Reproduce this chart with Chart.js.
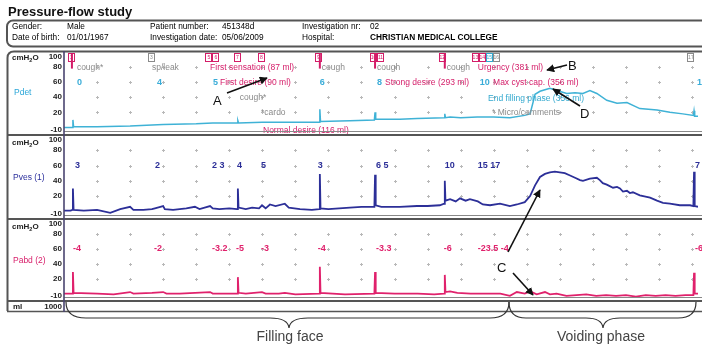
<!DOCTYPE html>
<html><head><meta charset="utf-8">
<script src="https://cdn.jsdelivr.net/npm/chart.js@4.4.1/dist/chart.umd.min.js"></script>
<style>
html,body{margin:0;padding:0;background:#fff;width:702px;height:346px;overflow:hidden;font-family:"Liberation Sans",Arial,sans-serif;}
#wrap{position:relative;width:702px;height:346px;}
canvas.panel{position:absolute;left:0;}
svg{position:absolute;left:0;top:0;}
</style></head><body>
<div id="wrap">
<canvas class="panel" id="cPdet" width="702" height="83" style="top:52px"></canvas>
<canvas class="panel" id="cPves" width="702" height="84" style="top:135px"></canvas>
<canvas class="panel" id="cPabd" width="702" height="82" style="top:219px"></canvas>
<svg width="702" height="346" xmlns="http://www.w3.org/2000/svg" font-family="Liberation Sans, Arial, sans-serif">
 <defs>
  <marker id="ah" viewBox="0 0 10 10" refX="9" refY="5" markerWidth="5" markerHeight="5" orient="auto"><path d="M0,0 L10,5 L0,10 z" fill="#111"/></marker>
 </defs>
 <!-- title & header -->
 <text x="8" y="16" font-size="13" font-weight="bold" fill="#111">Pressure-flow study</text>
 <rect x="7" y="20.5" width="705" height="26" rx="6" fill="none" stroke="#555" stroke-width="2"/>
 <g font-size="8.3" fill="#000">
  <text x="12" y="29">Gender:</text><text x="67" y="29">Male</text>
  <text x="150" y="29">Patient number:</text><text x="222" y="29">451348d</text>
  <text x="302" y="29">Investigation nr:</text><text x="370" y="29">02</text>
  <text x="12" y="40">Date of birth:</text><text x="67" y="40">01/01/1967</text>
  <text x="150" y="40">Investigation date:</text><text x="222" y="40">05/06/2009</text>
  <text x="302" y="40">Hospital:</text><text x="370" y="40" font-weight="bold">CHRISTIAN MEDICAL COLLEGE</text>
 </g>
 <!-- panel frame -->
 <path d="M7.5,311 L7.5,58 Q7.5,51.5 14,51.5 L710,51.5" fill="none" stroke="#555" stroke-width="2"/>
 <g stroke="#555" fill="none">
  <line x1="7" y1="135" x2="702" y2="135" stroke-width="2.2"/>
  <line x1="64" y1="131.5" x2="702" y2="131.5" stroke-width="1" stroke="#888"/>
  <line x1="7" y1="219" x2="702" y2="219" stroke-width="2.2"/>
  <line x1="64" y1="215.5" x2="702" y2="215.5" stroke-width="1" stroke="#888"/>
  <line x1="7" y1="301" x2="702" y2="301" stroke-width="2.2"/>
  <line x1="64" y1="297.5" x2="702" y2="297.5" stroke-width="1" stroke="#888"/>
  <line x1="7" y1="311.5" x2="702" y2="311.5" stroke-width="1.6"/>
  <line x1="64" y1="51" x2="64" y2="312" stroke-width="1.6" stroke="#4a4470"/>
 </g>
 <!-- left labels -->
 <g font-size="8" font-weight="bold" fill="#222">
  <text x="12" y="60">cmH<tspan font-size="5.5" dy="2">2</tspan><tspan dy="-2">O</tspan></text>
  <text x="12" y="145">cmH<tspan font-size="5.5" dy="2">2</tspan><tspan dy="-2">O</tspan></text>
  <text x="12" y="229">cmH<tspan font-size="5.5" dy="2">2</tspan><tspan dy="-2">O</tspan></text>
  <text x="13" y="309">ml</text>
  <text x="62" y="309" text-anchor="end">1000</text>
 </g>
 <text x="14" y="95" font-size="8.5" fill="#2aa6d8">Pdet</text>
 <text x="13" y="180" font-size="8.5" fill="#2b2f9c">Pves (1)</text>
 <text x="13" y="263" font-size="8.5" fill="#d81e6a">Pabd (2)</text>
 <!-- annotation arrows -->
 <g stroke="#111" stroke-width="1.6" fill="none">
  <line x1="227" y1="93" x2="267" y2="78" marker-end="url(#ah)"/>
  <line x1="567" y1="65" x2="547" y2="70" marker-end="url(#ah)"/>
  <line x1="580" y1="106" x2="553" y2="89" marker-end="url(#ah)"/>
  <line x1="508" y1="252" x2="540" y2="190" marker-end="url(#ah)"/>
  <line x1="513" y1="273" x2="533" y2="295" marker-end="url(#ah)"/>
 </g>
 <g font-size="13" fill="#111">
  <text x="213" y="105">A</text>
  <text x="568" y="70">B</text>
  <text x="497" y="272">C</text>
  <text x="580" y="118">D</text>
 </g>
 <!-- phase braces -->
 <g stroke="#333" stroke-width="1.2" fill="none">
  <path d="M66,302 Q66,318 86,318 L270,318 Q288,318 289,328 Q290,318 308,318 L490,318 Q509,318 509,302"/>
  <path d="M509,302 Q509,318 526,318 L586,318 Q602,318 603,328 Q604,318 620,318 L678,318 Q696,318 696,302"/>
 </g>
 <text x="290" y="341" font-size="14" fill="#444" text-anchor="middle">Filling face</text>
 <text x="601" y="341" font-size="14" fill="#444" text-anchor="middle">Voiding phase</text>
</svg>
</div>
<script>
// ---- Data (time in grid divisions, pressure in cmH2O) ----
const T_MAX = 19.18;
const gridTimes = [1,2,3,4,5,6,7,8,9,10,11,12,13,14,15,16,17,18,19];
const gridLevels = [20,40,60,80];
const tickValues = [100,80,60,40,20,-10];

const pdetTime = [0,0.25,0.27,0.29,1.0,2.0,3.0,4.0,4.5,5.24,5.26,5.28,6.0,7.0,7.72,7.74,7.76,8.65,9.39,9.41,9.43,10.16,10.68,11.5,11.52,11.54,11.68,12.0,12.5,13.0,13.49,13.94,14.10,14.20,14.25,14.40,14.55,14.70,14.91,15.21,15.46,15.70,15.91,16.12,16.42,16.73,17.03,17.42,17.94,18.33,18.72,19.04,19.06,19.08,19.18];
const pdetValues = [0,0,10,1,1,2,4,5,6,6,9,6,7,7,7,24,8,9,10,20,11,11,12,13,18,13,14,13,14,14,13,16,18,35,44,48,50,52,49,45,46,45,49,45,36,32,33,25,23,20,18,16,22,15,15];

const pvesTime = [0,0.2,0.25,0.27,0.29,0.6,1.0,1.4,1.7,2.0,2.1,2.4,2.66,2.75,3.0,3.05,3.3,3.7,3.96,4.1,4.42,4.5,4.7,5.0,5.24,5.26,5.28,5.5,5.69,5.9,5.99,6.1,6.23,6.4,6.68,6.8,7.14,7.5,7.72,7.74,7.76,8.0,8.65,9.0,9.39,9.41,9.43,9.6,10.16,10.68,11.0,11.37,11.5,11.52,11.54,11.68,11.85,11.98,12.15,12.28,12.52,12.67,12.89,13.19,13.49,13.70,13.94,14.10,14.25,14.40,14.55,14.70,14.85,15.00,15.15,15.31,15.46,15.61,15.70,15.91,16.12,16.21,16.30,16.42,16.61,16.73,16.82,16.91,17.03,17.12,17.21,17.42,17.73,17.94,18.12,18.33,18.63,18.94,19.04,19.06,19.08,19.18];
const pvesValues = [1,1,2,30,2,1,2,-2,3,6,2,2,3,4,7,3,2,4,6,3,7,4,3,4,3,30,5,3,5,4,8,4,9,7,10,5,3,2,3,49,4,3,5,6,6,48,8,6,6,7,7,8,10,40,14,16,13,17,14,16,13,9,8,10,7,9,12,20,34,45,49,51,52,51,50,47,44,41,40,43,44,41,37,35,31,32,30,26,27,24,25,21,18,14,11,10,8,8,7,52,7,6];

const pabdTime = [0,0.25,0.27,0.29,1.0,1.5,2.0,2.1,2.66,3.0,3.1,3.5,4.42,4.5,5.0,5.24,5.26,5.28,5.5,5.99,6.1,6.5,6.68,7.0,7.72,7.74,7.76,8.5,9.39,9.41,9.43,10.0,10.7,11.2,11.5,11.52,11.54,11.68,11.9,12.3,12.7,13.2,13.49,13.7,13.94,14.1,14.3,14.55,14.7,14.9,15.2,15.5,15.8,16.1,16.4,16.7,17.0,17.3,17.6,17.9,18.2,18.5,18.8,19.04,19.06,19.08,19.18];
const pabdValues = [0,0,29,1,0,-1,2,0,1,2,0,0,2,0,0,0,22,1,0,2,0,0,1,-1,0,36,1,-1,0,29,1,0,0,-1,0,25,2,3,1,0,0,0,-3,2,0,3,-1,2,-1,0,-3,-2,-1,-3,-2,-3,-2,-4,-2,-3,-2,-3,-2,-2,28,0,0];

// event markers (top of Pdet panel)
const markerTimes = [0.2,2.63,4.37,4.58,5.23,5.96,7.68,9.35,9.56,11.43,12.43,12.64,12.85,13.06,18.95];
const markerNumbers = ['1','3','5','6','7','8','9','10','11','12','13','14','15','16','17'];
const markerKinds = ['event','note','event','event','event','event','event','event','event','event','event','event','fill','note','note'];
const coughLineTimes = [0.24,7.74,9.41,11.52];

// Pdet panel notes
const pdetNoteTimes  = [0.39,2.66,4.42,7.80,9.47,11.58,12.52, 0.39,2.81,4.51,4.72,7.74,9.47,9.71,12.58,12.98,19.15, 5.32,12.83, 5.96,12.95, 6.02];
const pdetNoteLevels = [79,79,79,79,79,79,79, 59,59,59,59,59,59,59,59,59,59, 40,38, 20,20, -4];
const pdetNoteTexts  = ['cough*','sp/leak','First sensation (87 ml)','cough','cough','cough','Urgency (381 ml)',
  '0','4','5','First desire (90 ml)','6','8','Strong desire (293 ml)','10','Max cyst cap. (356 ml)','12',
  'cough*','End filling phase (356 ml)','*cardo','* Micro/comments','Normal desire (116 ml)'];
const pdetNoteKinds  = ['note','note','event','note','note','note','event',
  'num','num','num','event','num','num','event','num','event','num',
  'note','fill','note','note','event'];

// Pves panel numbers
const pvesNoteTimes = [0.33,2.75,4.48,5.23,5.96,7.68,9.44,11.52,12.52,19.09];
const pvesNoteTexts = ['3','2','2 3','4','5','3','6 5','10','15 17','7'];
const pvesNoteLevel = 60;

// Pabd panel numbers
const pabdNoteTimes = [0.27,2.72,4.48,5.2,5.96,7.68,9.44,11.49,12.52,19.09];
const pabdNoteTexts = ['-4','-2','-3.2','-5','-3','-4','-3.3','-6','-23.5 -4','-6'];
const pabdNoteLevel = 61;

// ---- Styles ----
const COL = {pdet:'#3fb2d6', pves:'#2c2f98', pabd:'#e0216c', event:'#d41c68', note:'#8a8a8a', num:'#39acd8', fill:'#33a9cf'};

function pts(ts, vs){ return ts.map((t,i)=>({x:t,y:vs[i]})); }

function makeDecor(cfg){
  return {
    id:'decor',
    beforeDatasetsDraw(chart){
      const {ctx, scales:{x,y}} = chart;
      ctx.save();
      ctx.strokeStyle = '#b8b8b8'; ctx.lineWidth = 1;
      gridTimes.forEach(k=>gridLevels.forEach(v=>{
        const px = Math.round(x.getPixelForValue(k))+0.5, py = Math.round(y.getPixelForValue(v))+0.5;
        ctx.beginPath(); ctx.moveTo(px-1.5,py); ctx.lineTo(px+1.5,py); ctx.moveTo(px,py-1.5); ctx.lineTo(px,py+1.5); ctx.stroke();
      }));
      ctx.restore();
    },
    afterDatasetsDraw(chart){
      const {ctx, scales:{x,y}} = chart;
      const h = chart.height;
      ctx.save();
      // y tick labels
      ctx.font = 'bold 8px "Liberation Sans", Arial';
      ctx.fillStyle = '#222'; ctx.textAlign = 'right'; ctx.textBaseline = 'middle';
      tickValues.forEach(v=>{
        let py = y.getPixelForValue(v);
        py = Math.min(Math.max(py, 5), h-5);
        ctx.fillText(String(v), 62, py);
      });
      ctx.textAlign = 'left';
      if (cfg.markers){
        coughLineTimes.forEach(t=>{
          const px = x.getPixelForValue(t);
          ctx.strokeStyle = COL.event; ctx.lineWidth = 2;
          ctx.beginPath(); ctx.moveTo(px, y.getPixelForValue(100)+1); ctx.lineTo(px, y.getPixelForValue(78)); ctx.stroke();
        });
        markerTimes.forEach((t,i)=>{
          const px = x.getPixelForValue(t), top = y.getPixelForValue(100)+1;
          ctx.strokeStyle = COL[markerKinds[i]]; ctx.lineWidth = 1;
          ctx.strokeRect(Math.round(px-3)+0.5, top+0.5, 6, 8);
          ctx.fillStyle = COL[markerKinds[i]];
          ctx.font = '5px "Liberation Sans", Arial'; ctx.textAlign='center';
          ctx.fillText(markerNumbers[i], px+0.5, top+4.5);
        });
        ctx.textAlign = 'left';
        pdetNoteTimes.forEach((t,i)=>{
          const k = pdetNoteKinds[i];
          ctx.fillStyle = COL[k];
          ctx.font = (k==='num' ? 'bold 9px' : '8.5px') + ' "Liberation Sans", Arial';
          ctx.fillText(pdetNoteTexts[i], x.getPixelForValue(t), y.getPixelForValue(pdetNoteLevels[i]));
        });
      }
      if (cfg.notes){
        ctx.fillStyle = cfg.noteColor;
        ctx.font = 'bold 9px "Liberation Sans", Arial';
        cfg.notes.times.forEach((t,i)=>{
          ctx.fillText(cfg.notes.texts[i], x.getPixelForValue(t), y.getPixelForValue(cfg.notes.level));
        });
      }
      ctx.restore();
    }
  };
}

function makeChart(id, times, values, color, width, cfg){
  return new Chart(document.getElementById(id), {
    type:'line',
    data:{datasets:[{data:pts(times, values), borderColor:color, borderWidth:width, pointRadius:0, tension:0, fill:false}]},
    options:{
      responsive:false, animation:false, devicePixelRatio:1, events:[],
      layout:{padding:{left:64, right:4, top:0, bottom:0}},
      plugins:{legend:{display:false}, tooltip:{enabled:false}},
      scales:{
        x:{type:'linear', min:0, max:T_MAX, display:false},
        y:{type:'linear', min:-10, max:100, display:false}
      }
    },
    plugins:[makeDecor(cfg)]
  });
}

makeChart('cPdet', pdetTime, pdetValues, COL.pdet, 1.5, {markers:true});
makeChart('cPves', pvesTime, pvesValues, COL.pves, 1.8, {notes:{times:pvesNoteTimes, texts:pvesNoteTexts, level:pvesNoteLevel}, noteColor:COL.pves});
makeChart('cPabd', pabdTime, pabdValues, COL.pabd, 1.8, {notes:{times:pabdNoteTimes, texts:pabdNoteTexts, level:pabdNoteLevel}, noteColor:COL.pabd});
</script>
</body></html>
